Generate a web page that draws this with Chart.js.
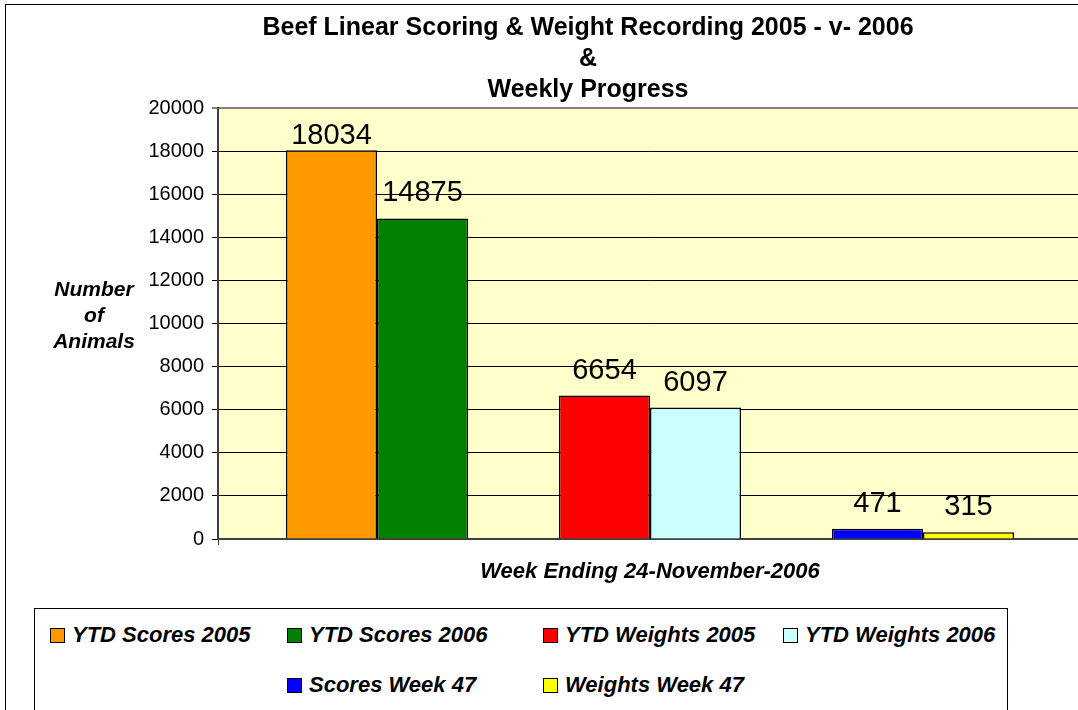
<!DOCTYPE html>
<html>
<head>
<meta charset="utf-8">
<title>Beef Linear Scoring &amp; Weight Recording 2005 - v- 2006</title>
<script src="https://cdn.jsdelivr.net/npm/chart.js@4.4.0/dist/chart.umd.min.js"></script>
<style>
  html, body { margin: 0; padding: 0; background: #fff; overflow: hidden; width: 1078px; height: 710px; }
  #lienzo { position: absolute; left: 0; top: 0; }
  #leyenda {
    position: absolute; left: 34px; top: 608px; width: 974px; height: 140px;
    box-sizing: border-box; border: 1px solid #000; background: #fff;
    display: grid; grid-template-columns: 237px 256px 240px auto; grid-auto-rows: 50px;
    padding-left: 15px; padding-top: 1px;
    font: italic bold 22px "Liberation Sans", Arial, sans-serif; color: #000;
  }
  .item { display: flex; align-items: center; white-space: nowrap; }
  .caja { width: 13px; height: 13px; border: 1px solid #000; margin-right: 7px; flex: none; }
</style>
</head>
<body>
<canvas id="lienzo" width="1180" height="720" style="width:1180px;height:720px"></canvas>
<div id="leyenda"></div>
<script>
// Datos del gráfico
const categorias = [''];
const series = ['YTD Scores 2005', 'YTD Scores 2006', 'YTD Weights 2005', 'YTD Weights 2006', 'Scores Week 47', 'Weights Week 47'];
const valores = [18034, 14875, 6654, 6097, 471, 315];
const colores = ['#FF9900', '#008000', '#FF0000', '#CCFFFF', '#0000FF', '#FFFF00'];
const grupos = [[0, 1], [2, 3], [4, 5]];
const ticksY = [0, 2000, 4000, 6000, 8000, 10000, 12000, 14000, 16000, 18000, 20000];
const tituloLineas = ['Beef Linear Scoring & Weight Recording 2005 - v- 2006', '&', 'Weekly Progress'];
const tituloX = 'Week Ending 24-November-2006';
const tituloY = ['Number', 'of', 'Animals'];

const FUENTE = '"Liberation Sans", Arial, sans-serif';
Chart.defaults.font.family = FUENTE;
Chart.defaults.color = '#000';

// Construir datasets: un hueco vacío entre cada par de barras
const datasets = [];
grupos.forEach((g, gi) => {
    if (gi > 0) datasets.push({ label: '', data: [null], hueco: true });
    g.forEach(i => {
        datasets.push({
            label: series[i],
            data: [valores[i]],
            backgroundColor: colores[i],
            borderColor: '#000',
            borderWidth: 1.5
        });
    });
});

const fondoPlugin = {
    id: 'fondo',
    beforeDraw(chart) {
        const { ctx, chartArea: a } = chart;
        ctx.save();
        ctx.fillStyle = '#fff';
        ctx.fillRect(0, 0, chart.width, chart.height);
        ctx.strokeStyle = '#000';
        ctx.lineWidth = 1;
        ctx.strokeRect(5.5, 4.5, 2000, 2000);
        ctx.fillStyle = '#FFFFCC';
        ctx.fillRect(a.left, a.top, a.right - a.left, a.bottom - a.top);
        ctx.restore();
    }
};

const etiquetasPlugin = {
    id: 'etiquetas',
    afterDatasetsDraw(chart) {
        const { ctx, chartArea: a } = chart;
        ctx.save();
        ctx.font = '29px ' + FUENTE;
        ctx.fillStyle = '#000';
        ctx.textAlign = 'center';
        ctx.textBaseline = 'alphabetic';
        chart.data.datasets.forEach((ds, i) => {
            if (ds.hueco) return;
            const meta = chart.getDatasetMeta(i);
            meta.data.forEach((el, j) => {
                const y = Math.max(el.y - 17, a.top + 36);
                ctx.fillText(String(ds.data[j]), el.x, y);
            });
        });
        ctx.restore();
    }
};

const textosPlugin = {
    id: 'textos',
    afterDraw(chart) {
        const { ctx, chartArea: a } = chart;
        ctx.save();
        ctx.fillStyle = '#000';
        ctx.textAlign = 'center';
        ctx.textBaseline = 'alphabetic';
        ctx.font = 'bold 25px ' + FUENTE;
        tituloLineas.forEach((t, i) => ctx.fillText(t, 588, 35 + i * 31));
        ctx.font = 'italic bold 22px ' + FUENTE;
        ctx.fillText(tituloX, (a.left + a.right) / 2, 578);
        ctx.font = 'italic bold 21px ' + FUENTE;
        tituloY.forEach((t, i) => ctx.fillText(t, 94, 296 + i * 26));
        ctx.restore();
    }
};

const chart = new Chart(document.getElementById('lienzo'), {
    type: 'bar',
    data: { labels: categorias, datasets: datasets },
    options: {
        responsive: false,
        animation: false,
        devicePixelRatio: 1,
        datasets: { bar: { categoryPercentage: 0.8426, barPercentage: 1 } },
        layout: { autoPadding: false, padding: { left: 138, top: 108, right: 98, bottom: 181 } },
        plugins: {
            legend: { display: false },
            title: { display: false },
            tooltip: { enabled: false }
        },
        scales: {
            x: {
                ticks: { display: false },
                grid: { drawOnChartArea: false, tickLength: 6, color: '#404040' },
                border: { color: '#404040', width: 2 },
                afterFit: s => { s.height = 0; }
            },
            y: {
                min: 0,
                max: 20000,
                afterBuildTicks: s => { s.ticks = ticksY.map(v => ({ value: v })); },
                ticks: { font: { size: 20 }, color: '#000', padding: 8, callback: v => String(v) },
                grid: {
                    tickLength: 6,
                    color: c => (c.tick && c.tick.value === 20000) ? '#808080' : '#000',
                    lineWidth: c => (c.tick && c.tick.value === 20000) ? 2 : 1
                },
                border: { color: '#404040', width: 2 },
                afterFit: s => { s.width = 80; }
            }
        }
    },
    plugins: [fondoPlugin, etiquetasPlugin, textosPlugin]
});

// Leyenda en HTML, en rejilla de 4 columnas con la segunda fila centrada
const leyenda = document.getElementById('leyenda');
const visibles = chart.data.datasets.filter(d => !d.hueco);
const columnas = 4;
visibles.forEach((d, i) => {
    const item = document.createElement('div');
    item.className = 'item';
    const fila = Math.floor(i / columnas);
    const enFila = Math.min(columnas, visibles.length - fila * columnas);
    if (i % columnas === 0 && enFila < columnas) {
        item.style.gridColumnStart = Math.floor((columnas - enFila) / 2) + 1;
    }
    const caja = document.createElement('span');
    caja.className = 'caja';
    caja.style.background = d.backgroundColor;
    item.appendChild(caja);
    item.appendChild(document.createTextNode(d.label));
    leyenda.appendChild(item);
});
</script>
</body>
</html>
